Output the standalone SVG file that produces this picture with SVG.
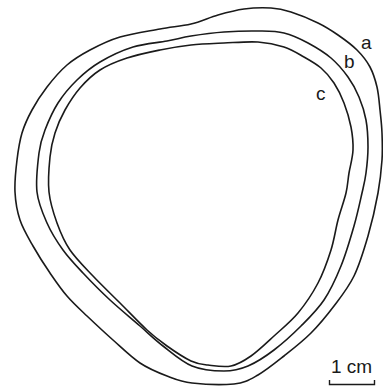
<svg xmlns="http://www.w3.org/2000/svg" width="383" height="386" viewBox="0 0 383 386">
<style>
.ring{fill:none;stroke:#1a1a1a;stroke-width:1.6;stroke-linejoin:round}
.lbl{font-family:"Liberation Sans",Arial,sans-serif;font-size:19px;fill:#1a1a1a}
.bar{fill:none;stroke:#1a1a1a;stroke-width:1.4}
</style>
<rect width="383" height="386" fill="#fff"/>
<g id="ring-a">
<path class="ring" d="M244,9 C235.2,10.2 226.8,12.5 218,15 S200.7,21.7 191,24 S171.8,26.8 160,29 S131.7,33.5 120,37 S98.8,45.3 90,50 S74.2,58.8 67,65 S52.8,79.5 47,87 S36.2,102.3 32,110 S24.5,124.7 22,133 S18.2,150.2 17,160 S14.5,182 15,192 S17,211 20,220 S28,237.2 33,246 S44.3,264.7 50,273 S60.8,288.8 67,296 S79.3,308.7 87,316 S104.2,332.2 113,340 S131,357 140,363 S158.3,372.7 167,376 S180.8,381.7 192,383 S223,385 234,384 S249.7,379.7 258,375 S275.2,363 284,356 S302.7,341.3 311,333 S326.8,315.5 334,306 S348.3,287.7 354,276 S364,249.8 368,236 S375.7,205.7 378,193 S381.3,170 382,160 S382.3,141.3 382,133 S380.8,117.7 380,110 S378.7,94.2 377,87 S373.3,73.2 370,67 S362.3,55.3 357,50 S344.5,39.5 338,35 S325.8,26.8 318,23 S298.8,14.5 291,12 S278.8,8.5 271,8 S252.8,7.8 244,9 Z"/>
<text class="lbl" x="361" y="49">a</text>
</g>
<g id="ring-b">
<path class="ring" d="M224,32 C212.8,32.8 200.5,34.5 191,36 S176.7,39.2 167,41 S144.2,43.5 133,47 S109.3,56.5 100,62 S84,73.2 77,80 S63.3,94.7 58,103 S48.2,121.7 45,130 S40.3,142.7 39,153 S35.7,180.3 37,192 S42.7,213.3 47,223 S57,241.7 63,250 S75.2,264.7 83,273 S100.5,291.2 110,300 S131.2,318.3 140,326 S154.3,339.3 163,346 S181.8,361.8 192,366 S214.7,371 224,371 S239.7,369.5 248,366 S265.2,356.7 274,350 S292.7,334.3 301,326 S317.3,310 324,300 S336,278.3 341,266 S350.5,238.2 354,226 S360,201.8 362,193 S365,180.7 366,173 S368,155.8 368,147 S367.5,128.3 366,120 S362,104.2 359,97 S352.7,83.5 348,77 S337.7,63.7 331,58 S315.8,47.2 308,43 S292.3,35 284,33 S268,31.2 258,31 S235.2,31.2 224,32 Z"/>
<text class="lbl" x="344" y="68">b</text>
</g>
<g id="ring-c">
<path class="ring" d="M224,43 C212.8,43.5 201.7,43.8 191,45 S170.7,47.8 160,50 S137,54.7 127,58 S107.8,65 100,70 S85.8,81.3 80,88 S69.2,102.5 65,110 S57.5,125.2 55,133 S51,147.2 50,157 S47.8,181 49,192 S53.5,213.3 57,223 S64,241.2 70,250 S84.7,267.2 93,276 S111,294 120,303 S139.2,322.8 147,330 S159.7,340.8 167,346 S184.2,357.8 191,361 S201.3,364.2 208,365 S223.8,367.5 231,366 S243.8,361 251,356 S266.2,343.2 274,336 S290.7,321.8 298,313 S312.5,293.5 318,283 S327.7,260.5 331,250 S335.5,229.5 338,220 S344.2,200.8 346,193 S347.8,180.2 349,173 S352.7,157.7 353,150 S352.5,134.8 351,127 S346.8,110.3 344,103 S337.8,88.8 334,83 S326,72.3 321,68 S310.2,60.5 304,57 S291.7,49.5 284,47 S268,42.7 258,42 S235.2,42.5 224,43 Z"/>
<text class="lbl" x="316" y="100">c</text>
</g>
<g id="scale">
<text class="lbl" x="351.5" y="373" text-anchor="middle">1 cm</text>
<path class="bar" d="M329.5,380 V384.5 H374.5 V380"/>
</g>
</svg>
